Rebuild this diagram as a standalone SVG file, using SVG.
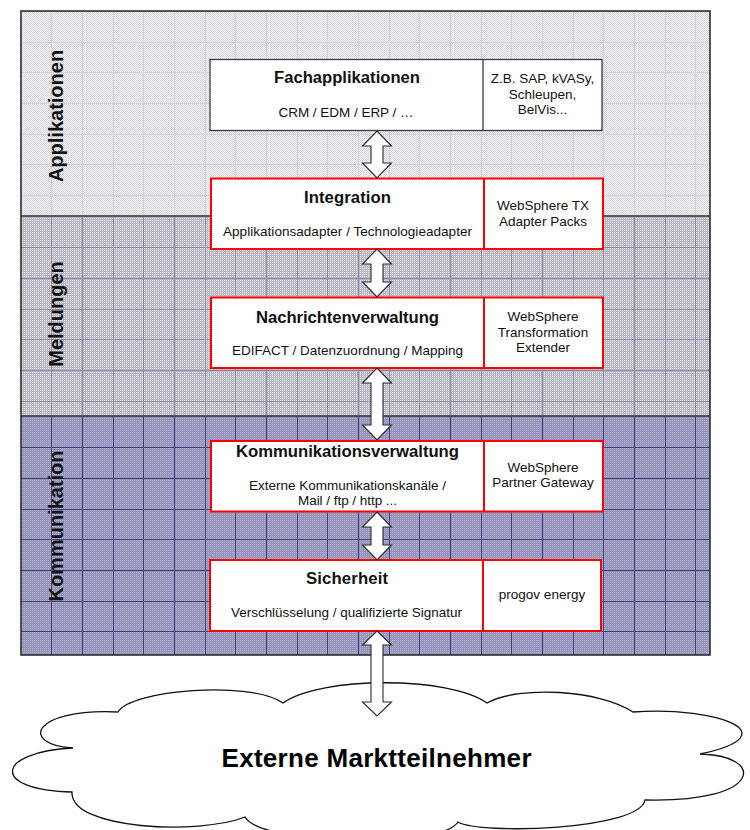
<svg xmlns="http://www.w3.org/2000/svg" width="750" height="830" viewBox="0 0 750 830">
<style>
.lbl{font-family:"Liberation Sans",Arial,sans-serif;font-weight:bold;font-size:20px;fill:#111;text-anchor:middle}
.ttl{font-family:"Liberation Sans",Arial,sans-serif;font-weight:bold;font-size:16.7px;fill:#111;text-anchor:middle}
.txt{font-family:"Liberation Sans",Arial,sans-serif;font-size:13.5px;fill:#111;text-anchor:middle}
.big{font-family:"Liberation Sans",Arial,sans-serif;font-weight:bold;font-size:26px;fill:#000;text-anchor:middle}
.boxg{fill:#fff;stroke:#3a3a3a;stroke-width:1.3}
.boxr{fill:#fff;stroke:#ff0000;stroke-width:2}
.divg{stroke:#3a3a3a;stroke-width:1.3}
.divr{stroke:#ff0000;stroke-width:2}
.arrow{fill:#fff;stroke:#2a2a2a;stroke-width:1.1;stroke-linejoin:miter}
.grid{fill:none;stroke-width:1;shape-rendering:crispEdges}
</style>
<defs>
<pattern id="texA" width="2" height="2" patternUnits="userSpaceOnUse">
<rect width="2" height="2" fill="#f6f6f9"/>
<rect width="1" height="1" fill="#d4d4dc"/>
<rect x="1" y="1" width="1" height="1" fill="#d8d8e0"/>
</pattern>
<pattern id="texB" width="2" height="2" patternUnits="userSpaceOnUse">
<rect width="2" height="2" fill="#b8b8c5"/>
<rect width="1" height="1" fill="#ececf2"/>
</pattern>
<pattern id="texC" width="2" height="2" patternUnits="userSpaceOnUse">
<rect width="2" height="2" fill="#9494bb"/>
<rect width="1" height="1" fill="#b4b4d0"/>
</pattern>
</defs>

<g id="band-applikationen">
<rect x="21" y="11" width="689" height="205" fill="url(#texA)"/>
<path class="grid" stroke="#d0d0df" d="M51.5 11V216M82.5 11V216M113 11V216M143.5 11V216M174.5 11V216M205 11V216M235.5 11V216M266.5 11V216M297 11V216M327.5 11V216M358.5 11V216M389 11V216M419.5 11V216M450.5 11V216M481 11V216M511.5 11V216M542.5 11V216M573 11V216M603.5 11V216M634.5 11V216M665 11V216M695.5 11V216M21 42.2H710M21 72.8H710M21 103.5H710M21 134.2H710M21 164.8H710M21 195.5H710"/>
<text class="lbl" transform="translate(63,116) rotate(-90)">Applikationen</text>
</g>

<g id="band-meldungen">
<rect x="21" y="216" width="689" height="200" fill="url(#texB)"/>
<path class="grid" stroke="#8a8aa8" d="M51.5 216V416M82.5 216V416M113 216V416M143.5 216V416M174.5 216V416M205 216V416M235.5 216V416M266.5 216V416M297 216V416M327.5 216V416M358.5 216V416M389 216V416M419.5 216V416M450.5 216V416M481 216V416M511.5 216V416M542.5 216V416M573 216V416M603.5 216V416M634.5 216V416M665 216V416M695.5 216V416M21 247.7H710M21 278.3H710M21 309H710M21 339.7H710M21 370.3H710M21 401H710"/>
<text class="lbl" transform="translate(63,314) rotate(-90)">Meldungen</text>
</g>

<g id="band-kommunikation">
<rect x="21" y="416" width="689" height="239" fill="url(#texC)"/>
<path class="grid" stroke="#3e3e7c" d="M51.5 416V655M82.5 416V655M113 416V655M143.5 416V655M174.5 416V655M205 416V655M235.5 416V655M266.5 416V655M297 416V655M327.5 416V655M358.5 416V655M389 416V655M419.5 416V655M450.5 416V655M481 416V655M511.5 416V655M542.5 416V655M573 416V655M603.5 416V655M634.5 416V655M665 416V655M695.5 416V655M21 447.7H710M21 478.3H710M21 509H710M21 539.7H710M21 570.3H710M21 601H710M21 631.7H710"/>
<text class="lbl" transform="translate(63,526) rotate(-90)">Kommunikation</text>
</g>

<g id="frame">
<rect x="21" y="11" width="689" height="644" fill="none" stroke="#2e2e2e" stroke-width="1.6"/>
<line x1="21" y1="216" x2="710" y2="216" stroke="#2e2e2e" stroke-width="1.6"/>
<line x1="21" y1="416" x2="710" y2="416" stroke="#2e2e2e" stroke-width="1.6"/>
</g>

<g id="fachapplikationen">
<rect class="boxg" x="210" y="59.5" width="392" height="71"/>
<line class="divg" x1="483" y1="59.5" x2="483" y2="130.5"/>
<text class="ttl" x="347" y="83" textLength="146" lengthAdjust="spacingAndGlyphs">Fachapplikationen</text>
<text class="txt" x="346" y="116.5" textLength="135">CRM / EDM / ERP / …</text>
<text class="txt" x="542.5" y="83">Z.B. SAP, kVASy,</text>
<text class="txt" x="542.5" y="98.5">Schleupen,</text>
<text class="txt" x="542.5" y="114">BelVis...</text>
</g>

<g id="integration">
<rect class="boxr" x="211" y="178.5" width="392" height="70.5"/>
<line class="divr" x1="484" y1="178.5" x2="484" y2="249"/>
<text class="ttl" x="347.5" y="202.5" textLength="87">Integration</text>
<text class="txt" x="347.5" y="236" textLength="249">Applikationsadapter / Technologieadapter</text>
<text class="txt" x="543" y="210">WebSphere TX</text>
<text class="txt" x="543" y="225.5">Adapter Packs</text>
</g>

<g id="nachrichtenverwaltung">
<rect class="boxr" x="211" y="297.5" width="392" height="70.5"/>
<line class="divr" x1="484" y1="297.5" x2="484" y2="368"/>
<text class="ttl" x="347.5" y="322.5" textLength="183">Nachrichtenverwaltung</text>
<text class="txt" x="347.5" y="355" textLength="231">EDIFACT / Datenzuordnung / Mapping</text>
<text class="txt" x="543" y="321">WebSphere</text>
<text class="txt" x="543" y="336.5">Transformation</text>
<text class="txt" x="543" y="352">Extender</text>
</g>

<g id="kommunikationsverwaltung">
<rect class="boxr" x="211" y="441" width="392" height="70.5"/>
<line class="divr" x1="484" y1="441" x2="484" y2="511.5"/>
<text class="ttl" x="347.5" y="456.5" textLength="223">Kommunikationsverwaltung</text>
<text class="txt" x="347.5" y="489.5" textLength="197">Externe Kommunikationskanäle /</text>
<text class="txt" x="347.5" y="505" textLength="99">Mail / ftp / http ...</text>
<text class="txt" x="543" y="471.5">WebSphere</text>
<text class="txt" x="543" y="487">Partner Gateway</text>
</g>

<g id="sicherheit">
<rect class="boxr" x="210" y="560" width="391" height="71"/>
<line class="divr" x1="483" y1="560" x2="483" y2="631"/>
<text class="ttl" x="347" y="583.5" textLength="82">Sicherheit</text>
<text class="txt" x="346.5" y="616.5" textLength="231">Verschlüsselung / qualifizierte Signatur</text>
<text class="txt" x="542" y="598.5">progov energy</text>
</g>

<g id="externe-marktteilnehmer">
<path d="M118,712 C130,690 250,680 283,703 C320,676 450,676 487,703 C520,685 600,690 633,712 C720,706 790,735 700,754 C765,755 765,803 645,800 C640,830 480,835 458,822 C440,850 260,845 245,817 C200,835 70,830 72,792 C-10,790 -5,752 73,748 C20,745 30,708 118,712 Z" fill="#fff" stroke="#111" stroke-width="1.3"/>
<text class="big" x="376.5" y="767" textLength="310">Externe Marktteilnehmer</text>
</g>

<g id="connectors">
<polygon class="arrow" points="377,131 391.5,146 383,146 383,163 391.5,163 377,178 362.5,163 371,163 371,146 362.5,146"/>
<polygon class="arrow" points="377,249 391.5,264 383,264 383,282 391.5,282 377,297 362.5,282 371,282 371,264 362.5,264"/>
<polygon class="arrow" points="377,368 391.5,383 383,383 383,425 391.5,425 377,440 362.5,425 371,425 371,383 362.5,383"/>
<polygon class="arrow" points="377,512 391.5,527 383,527 383,545 391.5,545 377,560 362.5,545 371,545 371,527 362.5,527"/>
<polygon class="arrow" points="377,631 391.5,645 383,645 383,702 391.5,702 377,716 362.5,702 371,702 371,645 362.5,645"/>
</g>
</svg>
